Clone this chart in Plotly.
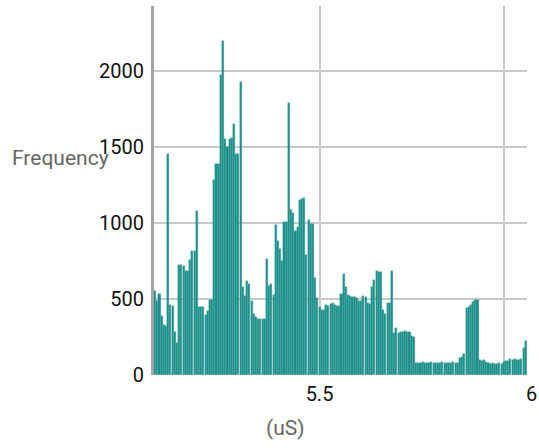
import plotly.graph_objects as go

# ---- data ----
bin_start = 5.0489
bin_width = 0.00596
counts = [
    554, 486, 532, 388, 326, 320, 1456, 460, 453, 280, 208, 723, 723, 715, 685, 685, 755, 817, 817, 1077,
    449, 449, 449, 394, 420, 493, 493, 1281, 1390, 1390, 1971, 2197, 1555, 1500, 1555, 1561, 1649, 1456,
    1456, 1927, 580, 519,
    620, 600, 490, 400, 383, 366, 366, 366, 370, 764, 585, 602, 525, 985, 880, 826, 751, 1007, 1007, 1789,
    1088, 1066, 948, 974, 1150, 1160, 1167, 788, 1022, 992, 992, 635, 504, 449, 427, 427, 460, 453, 466,
    475, 460, 453, 453,
    532, 662, 577, 526, 520, 511, 511, 505, 489, 489, 520, 511, 476, 467, 577, 625, 686, 680, 680, 428,
    401, 476, 476, 686, 274, 307, 278, 285, 285, 292, 285, 285, 257, 250,
    81, 77, 81, 88, 81, 77, 81, 88, 81, 81, 77, 81, 88, 81, 81, 77, 81, 88, 81, 81,
    110, 116, 138, 440, 450, 460, 482, 493, 493,
    99, 94, 99, 88, 77,
    72, 77, 72, 72, 77, 72,
    88, 94, 94, 103, 99, 103, 99, 99, 103, 175, 226,
]
x_tick_vals = [5.5, 6]
x_tick_text = ["5.5", "6"]
y_tick_vals = [0, 500, 1000, 1500, 2000]
y_tick_text = ["0", "500", "1000", "1500", "2000"]
x_title = "(uS)"
y_title = "Frequency"

centers = [bin_start + bin_width * (i + 0.5) for i in range(len(counts))]

FONT = "Roboto, sans-serif"
FS = 20

fig = go.Figure()
fig.add_trace(go.Bar(
    x=centers, y=counts, width=bin_width * 0.94,
    marker=dict(color="#188e89", line=dict(color="#55aba7", width=0.4)),
    showlegend=False, hoverinfo="x+y",
))
# helper axis pair carrying the x tick labels
fig.add_trace(go.Scatter(x=[], y=[], xaxis="x2", yaxis="y2", showlegend=False, hoverinfo="skip"))

W, H = 539, 448
ml, mr, mt, mb = 154, 0, 6, 73
pw = W - ml - mr
ph = H - mt - mb
main_px = 373
fig.update_layout(
    width=W, height=H,
    margin=dict(l=ml, r=mr, t=mt, b=mb, pad=0, autoexpand=False),
    paper_bgcolor="white", plot_bgcolor="rgba(0,0,0,0)",
    font=dict(family=FONT, size=FS, color="#111111"),
    bargap=0,
    xaxis=dict(
        domain=[0, main_px / pw], range=[bin_start, bin_start + main_px / 368.0],
        tickvals=x_tick_vals, showticklabels=False, showgrid=True, automargin=False,
        gridcolor="#c9c9c9", gridwidth=1.5, zeroline=False, showline=False, ticks="",
    ),
    yaxis=dict(
        range=[0, 2428], tickvals=y_tick_vals, ticktext=y_tick_text, automargin=False,
        showgrid=True, gridcolor="#c9c9c9", gridwidth=1.5, zeroline=False,
        showline=True, linecolor="#a3a3a3", linewidth=3, ticks="",
        ticklabelstandoff=3, tickfont=dict(size=FS, color="#111111"),
    ),
    xaxis2=dict(
        domain=[0, 1], anchor="y2", range=[5.10967, 5.10967 + pw / 424.0], automargin=False,
        tickvals=x_tick_vals, ticktext=x_tick_text, showgrid=False, zeroline=False,
        showline=False, ticks="", ticklabelstandoff=5,
        tickfont=dict(size=FS, color="#111111"),
    ),
    yaxis2=dict(domain=[0, 1], anchor="x2", visible=False, showgrid=False, range=[0, 1],
                automargin=False),
    annotations=[
        dict(text=y_title, xref="paper", yref="paper", x=(10 - ml) / pw, y=(ph - (158 - mt)) / ph,
             xanchor="left", yanchor="middle", showarrow=False,
             font=dict(family=FONT, size=21, color="#666666")),
        dict(text=x_title, xref="paper", yref="paper", x=(285 - ml) / pw, y=(ph - (428 - mt)) / ph,
             xanchor="center", yanchor="middle", showarrow=False,
             font=dict(family=FONT, size=21, color="#666666")),
    ],
)

fig.write_html(
    "out.html",
    config={"displayModeBar": False},
    post_script="document.body.style.margin='0px';document.body.style.overflow='hidden';",
)
